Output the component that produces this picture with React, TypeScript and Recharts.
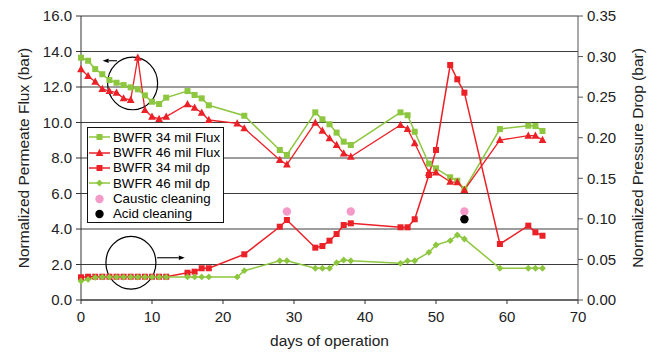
import React from 'react';
import {
  ComposedChart,
  Line,
  Scatter,
  XAxis,
  YAxis,
  CartesianGrid,
  Legend,
  ReferenceDot,
  ReferenceLine,
} from 'recharts';

// ---------- data ----------
const xTicks = [0, 10, 20, 30, 40, 50, 60, 70];
const leftTicks = [0, 2, 4, 6, 8, 10, 12, 14, 16];
const rightTicks = [0, 0.05, 0.1, 0.15, 0.2, 0.25, 0.3, 0.35];

const flux34Days = [0, 1, 2, 3, 4, 5, 6, 7, 8, 9, 10, 11, 12, 15, 16, 17, 18, 23, 28, 29, 33, 34, 35, 36, 37, 38, 45, 46, 47, 49, 50, 52, 53, 54, 59, 63, 64, 65];
const flux34 = [13.65, 13.48, 13.01, 12.72, 12.39, 12.24, 12.11, 11.98, 11.87, 11.53, 11.17, 11.04, 11.4, 11.77, 11.55, 11.36, 10.97, 10.38, 8.45, 8.17, 10.57, 10.18, 9.9, 9.43, 8.92, 8.73, 10.57, 10.41, 9.48, 7.68, 7.42, 6.91, 6.72, 6.24, 9.63, 9.82, 9.8, 9.52];

const flux46Days = [0, 1, 2, 3, 4, 5, 6, 7, 8, 9, 10, 11, 12, 15, 16, 17, 18, 22, 23, 28, 29, 33, 34, 35, 36, 37, 38, 45, 46, 47, 49, 50, 52, 53, 54, 59, 63, 64, 65];
const flux46 = [13.0, 12.62, 12.3, 11.89, 11.77, 11.68, 11.36, 11.27, 13.65, 10.7, 10.33, 10.2, 10.33, 11.03, 10.83, 10.55, 10.14, 9.95, 9.67, 7.89, 7.63, 9.99, 9.54, 9.11, 8.73, 8.26, 8.07, 9.86, 9.63, 8.83, 7.17, 7.19, 6.66, 6.63, 6.2, 9.01, 9.26, 9.26, 9.01];

const dp34Days = [0, 1, 2, 3, 4, 5, 6, 7, 8, 9, 10, 11, 12, 15, 16, 17, 18, 23, 28, 29, 33, 34, 35, 36, 37, 38, 45, 46, 47, 49, 50, 52, 53, 54, 59, 63, 64, 65];
const dp34 = [0.028, 0.0287, 0.0287, 0.0287, 0.0287, 0.0287, 0.0287, 0.0287, 0.0287, 0.0287, 0.0287, 0.0287, 0.0287, 0.0336, 0.0349, 0.0391, 0.0391, 0.0563, 0.0903, 0.0986, 0.0645, 0.0665, 0.0731, 0.0813, 0.0924, 0.0945, 0.0896, 0.0896, 0.0995, 0.154, 0.1849, 0.2896, 0.272, 0.2555, 0.069, 0.0916, 0.0834, 0.0792];

const dp46Days = [0, 1, 2, 3, 4, 5, 6, 7, 8, 9, 10, 11, 12, 15, 16, 17, 18, 22, 23, 28, 29, 33, 34, 35, 36, 37, 38, 45, 46, 47, 49, 50, 52, 53, 54, 59, 63, 64, 65];
const dp46 = [0.0234, 0.0255, 0.0278, 0.0282, 0.0282, 0.0282, 0.0282, 0.0282, 0.0282, 0.0282, 0.0282, 0.0282, 0.0282, 0.0284, 0.0284, 0.0284, 0.0284, 0.0284, 0.0361, 0.0484, 0.0484, 0.0391, 0.0391, 0.0391, 0.046, 0.0493, 0.0484, 0.0452, 0.0481, 0.0484, 0.0588, 0.0678, 0.0731, 0.0801, 0.0752, 0.0391, 0.0391, 0.0391, 0.0391];

const causticDays = [29, 38, 54];
const causticVals = [0.109, 0.109, 0.109];
const acidDays = [54];
const acidVals = [0.0995];

const seriesNames = [
  'BWFR 34 mil Flux',
  'BWFR 46 mil Flux',
  'BWFR 34 mil dp',
  'BWFR 46 mil dp',
  'Caustic cleaning',
  'Acid cleaning',
];

// annotation anchors (data units: day, left-axis value)
const circleDays = [7.27, 7.03];
const circleVals = [12.2, 2.1];
const arrowFromDays = [5.06, 10.72];
const arrowToDays = [3.05, 14.62];
const arrowVals = [13.48, 2.38];

// ---------- styling ----------
const FONT = "'Liberation Sans', Arial, sans-serif";
const GREEN = '#8DC63F';
const RED = '#EC2027';
const PINK = '#F49AC8';
const BLACK = '#000000';
const TEXT = '#222222';

const rows = (days: number[], vals: number[]) => days.map((d, i) => ({ day: d, v: vals[i] }));

const flux34Data = rows(flux34Days, flux34);
const flux46Data = rows(flux46Days, flux46);
const dp34Data = rows(dp34Days, dp34);
const dp46Data = rows(dp46Days, dp46);
const causticData = rows(causticDays, causticVals);
const acidData = rows(acidDays, acidVals);

type Shape = 'square' | 'triangle' | 'diamond' | 'circle';

const markerEl = (shape: Shape, cx: number, cy: number, color: string, key?: string) => {
  if (shape === 'square') {
    const s = 6;
    return <rect key={key} x={cx - s / 2} y={cy - s / 2} width={s} height={s} fill={color} />;
  }
  if (shape === 'triangle') {
    return (
      <polygon
        key={key}
        points={`${cx},${cy - 4.2} ${cx - 3.9},${cy + 3} ${cx + 3.9},${cy + 3}`}
        fill={color}
      />
    );
  }
  if (shape === 'diamond') {
    const d = 3.4;
    return (
      <polygon
        key={key}
        points={`${cx},${cy - d} ${cx + d},${cy} ${cx},${cy + d} ${cx - d},${cy}`}
        fill={color}
      />
    );
  }
  return <circle key={key} cx={cx} cy={cy} r={4.2} fill={color} />;
};

const makeDot = (shape: Shape, color: string, prefix: string) => (props: any) => {
  const { cx, cy, index } = props;
  if (cx == null || cy == null) return <g key={`${prefix}-${index}`} />;
  return markerEl(shape, cx, cy, color, `${prefix}-${index}`);
};

const makeScatterShape = (color: string) => (props: any) => {
  const { cx, cy } = props;
  return <circle cx={cx} cy={cy} r={4.2} fill={color} />;
};

const legendShapes: Shape[] = ['square', 'triangle', 'square', 'diamond', 'circle', 'circle'];
const legendColors = [GREEN, RED, RED, GREEN, PINK, BLACK];
const legendHasLine = [true, true, true, true, false, false];

const LegendBox = () => (
  <div
    style={{
      width: 137,
      height: 96,
      boxSizing: 'border-box',
      border: '1px solid #111',
      background: '#fff',
      paddingTop: 1.6,
      fontFamily: FONT,
      fontSize: 13.3,
      color: '#000',
    }}
  >
    {seriesNames.map((name, i) => (
      <div key={name} style={{ display: 'flex', alignItems: 'center', height: 15.35 }}>
        <svg width={24} height={14} style={{ display: 'block', flex: 'none' }}>
          {legendHasLine[i] && (
            <line x1={1} y1={7} x2={22} y2={7} stroke={legendColors[i]} strokeWidth={1.5} />
          )}
          {markerEl(legendShapes[i], 11.5, 7, legendColors[i])}
        </svg>
        <span style={{ marginLeft: 1, whiteSpace: 'nowrap', lineHeight: '15px' }}>{name}</span>
      </div>
    ))}
  </div>
);

const ArrowShape = (props: any) => {
  const { x1, y1, x2, y2 } = props;
  const dir = x2 > x1 ? 1 : -1;
  const headLen = 6;
  const headHalf = 2.2;
  const bx = x2 - dir * headLen;
  return (
    <g>
      <line x1={x1} y1={y1} x2={bx} y2={y2} stroke="#000" strokeWidth={1.1} />
      <polygon points={`${x2},${y2} ${bx},${y2 - headHalf} ${bx},${y2 + headHalf}`} fill="#000" />
    </g>
  );
};

const EllipseShape = (props: any) => {
  const { cx, cy } = props;
  return <ellipse cx={cx} cy={cy} rx={25} ry={26.3} fill="none" stroke="#000" strokeWidth={1.2} />;
};

const tickStyle = { fill: TEXT, fontSize: 15, fontFamily: FONT };
const titleStyle = { fill: TEXT, fontSize: 15.5, fontFamily: FONT };

export default function App() {
  return (
    <div style={{ position: 'absolute', left: 0, top: 0, width: 660, height: 352, background: '#fff' }}>
      <ComposedChart width={660} height={352} margin={{ top: 16, right: 0, bottom: 0, left: 0 }}>
        <CartesianGrid yAxisId="left" vertical={false} stroke="#3c3c3c" strokeWidth={1} />
        <XAxis
          type="number"
          dataKey="day"
          domain={[0, 70]}
          ticks={xTicks}
          interval={0}
          height={52}
          tickSize={4}
          tickMargin={7}
          stroke="#333"
          tick={tickStyle}
          label={{ value: 'days of operation', position: 'insideBottom', offset: 6, ...titleStyle }}
        />
        <YAxis
          yAxisId="left"
          orientation="left"
          domain={[0, 16]}
          ticks={leftTicks}
          interval={0}
          width={81}
          tickSize={5}
          tickMargin={4}
          stroke="#333"
          tick={tickStyle}
          tickFormatter={(v: number) => v.toFixed(1)}
          label={{ value: 'Normalized Permeate Flux (bar)', angle: -90, position: 'center', dx: -17, ...titleStyle }}
        />
        <YAxis
          yAxisId="right"
          orientation="right"
          domain={[0, 0.35]}
          ticks={rightTicks}
          interval={0}
          width={82}
          tickSize={5}
          tickMargin={4}
          stroke="#555"
          tick={tickStyle}
          tickFormatter={(v: number) => v.toFixed(2)}
          label={{ value: 'Normalized Pressure Drop (bar)', angle: -90, position: 'center', dx: 18, ...titleStyle }}
        />

        <Line
          yAxisId="left"
          data={flux34Data}
          dataKey="v"
          name={seriesNames[0]}
          stroke={GREEN}
          strokeWidth={1.5}
          dot={makeDot('square', GREEN, 'f34')}
          activeDot={false}
          isAnimationActive={false}
        />
        <Line
          yAxisId="left"
          data={flux46Data}
          dataKey="v"
          name={seriesNames[1]}
          stroke={RED}
          strokeWidth={1.3}
          dot={makeDot('triangle', RED, 'f46')}
          activeDot={false}
          isAnimationActive={false}
        />
        <Line
          yAxisId="right"
          data={dp34Data}
          dataKey="v"
          name={seriesNames[2]}
          stroke={RED}
          strokeWidth={1.5}
          dot={makeDot('square', RED, 'd34')}
          activeDot={false}
          isAnimationActive={false}
        />
        <Line
          yAxisId="right"
          data={dp46Data}
          dataKey="v"
          name={seriesNames[3]}
          stroke={GREEN}
          strokeWidth={1.5}
          dot={makeDot('diamond', GREEN, 'd46')}
          activeDot={false}
          isAnimationActive={false}
        />
        <Scatter
          yAxisId="right"
          data={causticData}
          dataKey="v"
          name={seriesNames[4]}
          fill={PINK}
          shape={makeScatterShape(PINK)}
          isAnimationActive={false}
        />
        <Scatter
          yAxisId="right"
          data={acidData}
          dataKey="v"
          name={seriesNames[5]}
          fill={BLACK}
          shape={makeScatterShape(BLACK)}
          isAnimationActive={false}
        />

        {circleDays.map((d, i) => (
          <ReferenceDot
            key={`c${i}`}
            yAxisId="left"
            x={d}
            y={circleVals[i]}
            r={25}
            shape={EllipseShape}
          />
        ))}
        {arrowVals.map((v, i) => (
          <ReferenceLine
            key={`a${i}`}
            yAxisId="left"
            segment={[
              { x: arrowFromDays[i], y: v },
              { x: arrowToDays[i], y: v },
            ]}
            shape={ArrowShape}
          />
        ))}

        <Legend
          layout="vertical"
          align="center"
          verticalAlign="middle"
          content={() => <LegendBox />}
          wrapperStyle={{ left: 87, top: 127, width: 137, height: 96 }}
        />
      </ComposedChart>
    </div>
  );
}
